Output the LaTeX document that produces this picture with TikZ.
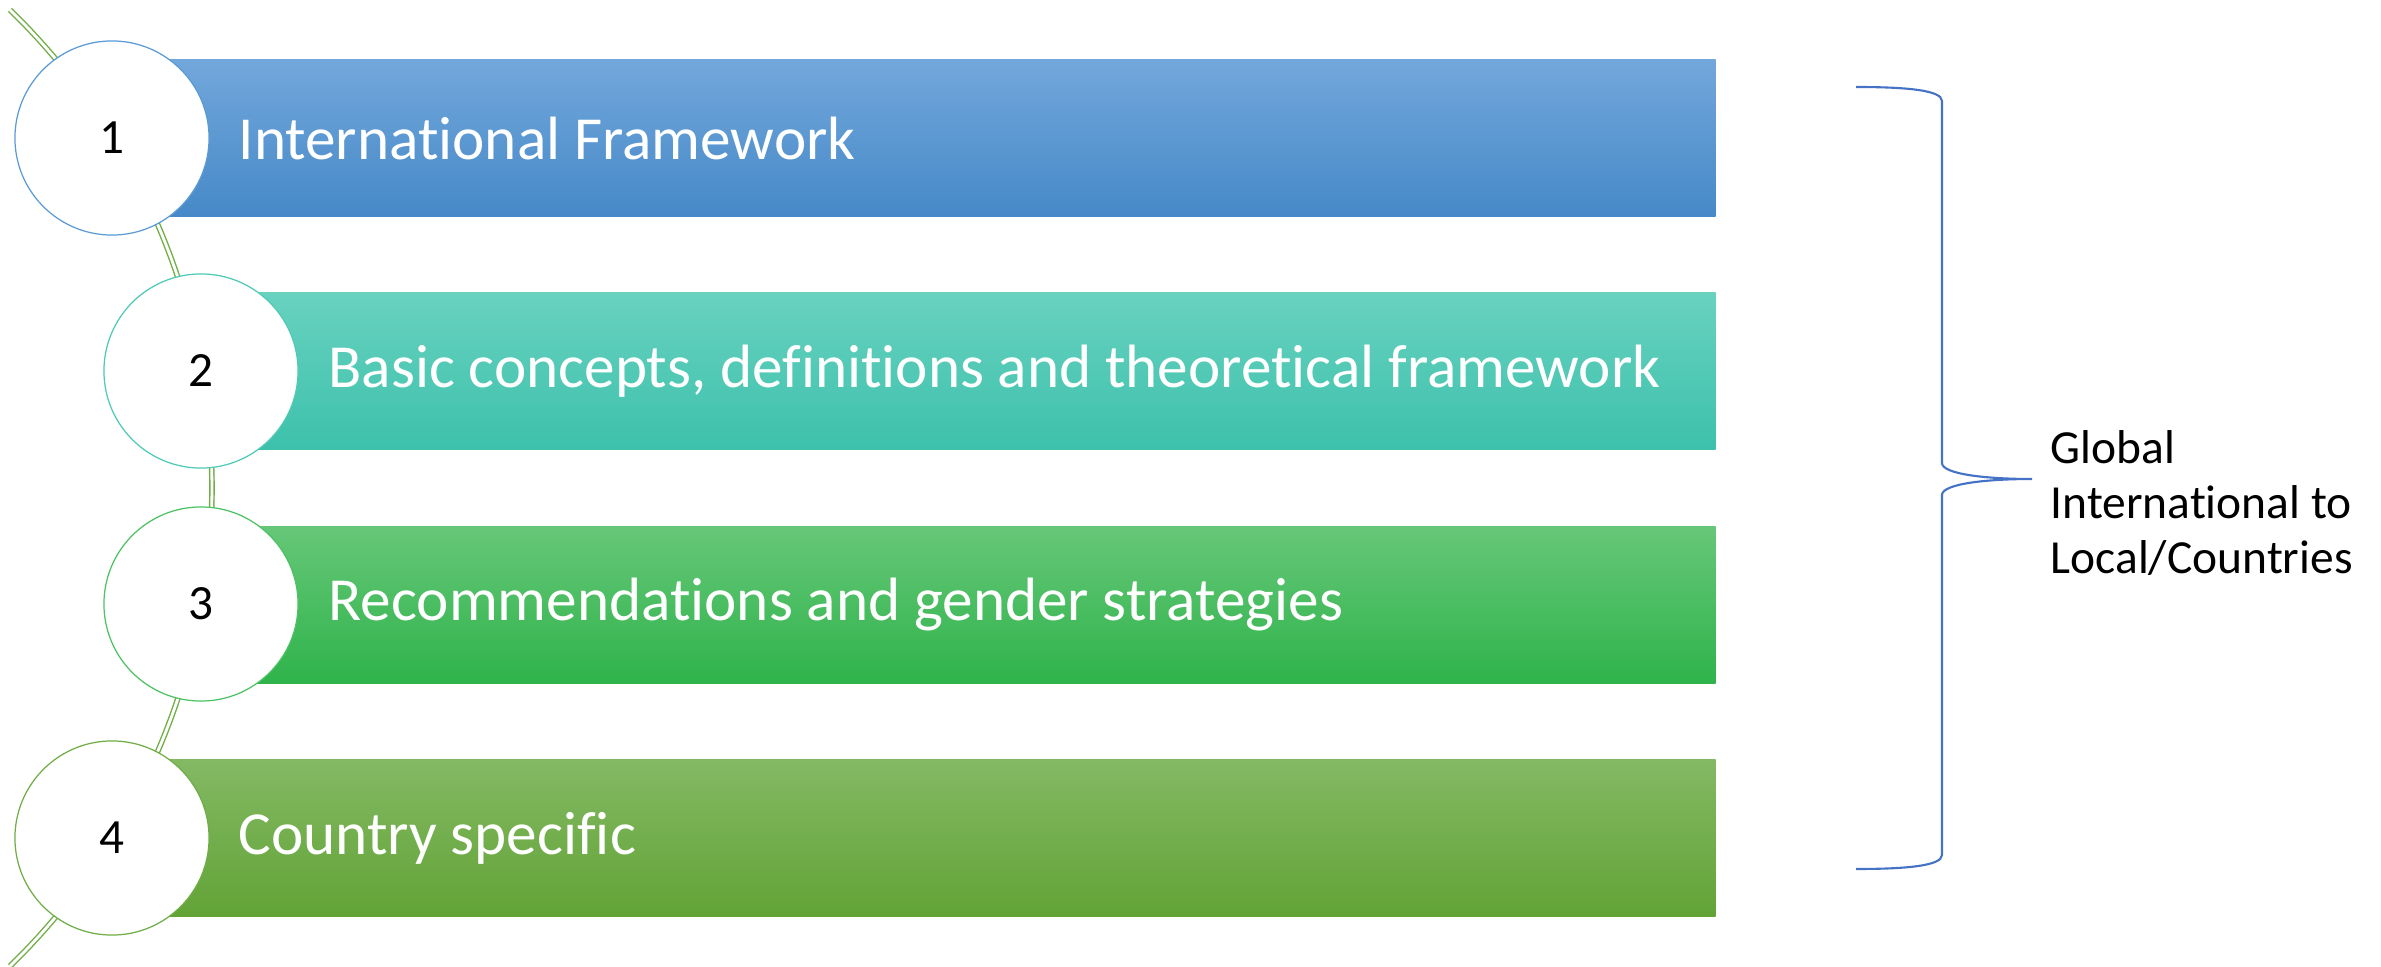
\documentclass[tikz,border=0pt]{standalone}
\usepackage{fontspec}
\setmainfont{Carlito}[Ligatures=NoCommon]
\usetikzlibrary{shadings}
\definecolor{bOneT}{HTML}{72A7DB}\definecolor{bOneB}{HTML}{4689C8}
\definecolor{bTwoT}{HTML}{68D2BF}\definecolor{bTwoB}{HTML}{3DC1AC}
\definecolor{bThrT}{HTML}{66C778}\definecolor{bThrB}{HTML}{2FB34B}
\definecolor{bFouT}{HTML}{84B964}\definecolor{bFouB}{HTML}{62A336}
\definecolor{cOne}{HTML}{5B9BD5}\definecolor{cTwo}{HTML}{4FCAB5}
\definecolor{cThr}{HTML}{4CC262}\definecolor{cFou}{HTML}{70AD47}
\definecolor{arcgreen}{HTML}{70AD47}
\definecolor{bracecol}{HTML}{4472C4}
\tikzset{
  barbox/.style={draw=none, rectangle, anchor=west, minimum height=1.56cm, inner sep=0pt},
  numcircle/.style={circle, fill=white, draw, line width=0.35pt, minimum size=1.94cm, inner sep=0pt, font=\fontsize{14}{16}\selectfont},
  bartext/.style={anchor=west, text=white, inner sep=0pt, font=\fontsize{17.4}{20}\selectfont},
  sidetext/.style={anchor=west, align=left, inner sep=0pt, font=\fontsize{13.5}{15.6}\selectfont},
}
\begin{document}
\begin{tikzpicture}[x=0.01cm,y=-0.01cm]
\useasboundingbox (0,0) rectangle (2381,967);
% bars
\node[barbox, minimum width=16.02cm, top color=bOneT, bottom color=bOneB] (b1) at (112,138) {};
\node[barbox, minimum width=15.13cm, top color=bTwoT, bottom color=bTwoB] (b2) at (201,371) {};
\node[barbox, minimum width=15.13cm, top color=bThrT, bottom color=bThrB] (b3) at (201,605) {};
\node[barbox, minimum width=16.02cm, top color=bFouT, bottom color=bFouB] (b4) at (112,838) {};
% arc double line
\draw[arcgreen, line width=0.4pt, double=white, double distance=0.8pt]
  plot[domain=45.8:-45.8, samples=80] ({-455+667*cos(\x)}, {488-667*sin(\x)});
% circles
\node[numcircle, draw=cOne] (c1) at (112,138) {1};
\node[numcircle, draw=cTwo] (c2) at (201,371) {2};
\node[numcircle, draw=cThr] (c3) at (201,604) {3};
\node[numcircle, draw=cFou] (c4) at (112,838) {4};
% texts
\node[bartext] (t1) at (238,138) {International Framework};
\node[bartext] (t2) at (328,371) {Basic concepts, definitions and theoretical framework};
\node[bartext] (t3) at (328,605) {Recommendations and gender strategies};
\node[bartext] (t4) at (238,838) {Country specific};
% brace
\coordinate (tip) at (2032,479);
\draw[bracecol, line width=0.6pt]
  (1856,87) .. controls (1905,87) and (1942,90) .. (1942,101) -- (1942,463)
  .. controls (1942,474) and (1985,479) .. (tip)
  .. controls (1985,479) and (1942,484) .. (1942,495) -- (1942,855)
  .. controls (1942,866) and (1905,869) .. (1856,869);
\node[sidetext] (lbl) at (2050,503) {Global\\International to\\Local/Countries};
\end{tikzpicture}
\end{document}
